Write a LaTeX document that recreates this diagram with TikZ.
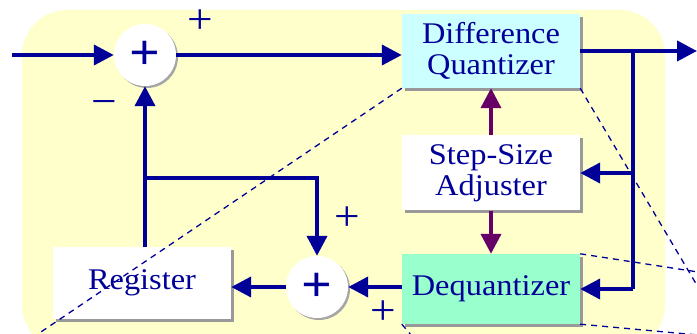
\documentclass[tikz,border=0pt]{standalone}
\usepackage{fontspec}
\setmainfont{Liberation Serif}[FakeStretch=1.08]
\usetikzlibrary{arrows.meta,positioning,shadows}
\definecolor{navy}{RGB}{0,0,153}
\definecolor{plum}{RGB}{102,0,102}
\definecolor{paleyellow}{RGB}{255,255,204}
\definecolor{palecyan}{RGB}{204,255,255}
\definecolor{palegreen}{RGB}{153,255,204}

\begin{document}
\begin{tikzpicture}[x=1pt, y=-1pt, line cap=butt,
    font=\fontsize{30}{31}\selectfont, text=navy,
    >={Triangle[length=20pt,width=20pt]},
    blk/.style={minimum width=178pt, inner sep=0pt, align=center,
      drop shadow={shadow xshift=3pt, shadow yshift=-3pt, fill=black!40, opacity=1}},
    sumnode/.style={circle, fill=white, minimum size=62pt, inner sep=0pt,
      font=\fontsize{50}{50}\selectfont\bfseries,
      drop shadow={shadow xshift=2pt, shadow yshift=-2pt, fill=black!35, opacity=1}},
    sign/.style={inner sep=0pt, font=\fontsize{42}{42}\selectfont},
    flow/.style={draw=navy, line width=4pt},
    ctl/.style={draw=plum, line width=4pt},
    zoomline/.style={draw=navy, line width=1.3pt, dash pattern=on 6pt off 5pt}]
  \useasboundingbox (0,0) rectangle (697,334);
  % background panel
  \fill[paleyellow, rounded corners=45pt] (22,10) rectangle (665,350);
  % blocks
  \node[sumnode] (sumA) at (145,55) {+};
  \node[blk, fill=palecyan, minimum height=74pt] (quant) at (491,51) {Difference\\Quantizer};
  \node[blk, fill=white, minimum height=75pt] (stepadj) at (491,173) {Step-Size\\Adjuster};
  \node[blk, fill=palegreen, minimum height=70pt] (dequant) at (491,289) {Dequantizer};
  \node[sumnode] (sumB) at (317,287) {+};
  \node[blk, fill=white, minimum height=71pt] (reg) at (142,283) {Register};
  % signs
  \node[sign] (pA) at (200,22) {+};
  \node[sign] (mA) at (104,108) {−};
  \node[sign] (pB) at (347,219) {+};
  \node[sign] (pC) at (383,313) {+};
  % signal path
  \coordinate (in) at (12,55);
  \coordinate (out) at (697,51);
  \coordinate (tap) at (633,51);
  \coordinate (fb) at (145,178);
  \draw[flow, ->] (in) -- (sumA);
  \draw[flow, ->] (sumA) -- (quant.west |- sumA);
  \draw[flow, ->] (quant) -- (out);
  \draw[flow] (tap) -- (tap |- dequant);
  \draw[flow, ->] (tap |- stepadj) -- (stepadj.east |- stepadj);
  \draw[flow, ->] (tap |- dequant) -- (dequant.east |- dequant);
  \draw[flow, ->] (dequant.west |- sumB) -- (sumB);
  \draw[flow, ->] (sumB) -- (reg.east |- sumB);
  \draw[flow, ->] (reg.north -| sumA) -- (sumA);
  \draw[flow, ->] (fb) -- (sumB |- fb) -- (sumB);
  % step size control
  \draw[ctl, ->] (stepadj) -- (quant);
  \draw[ctl, ->] (stepadj) -- (dequant);
  % zoom guide lines
  \draw[zoomline] (quant.south west) -- (35,336);
  \draw[zoomline] (quant.south east) -- (698,287);
  \draw[zoomline] (dequant.north east) -- (698,272);
  \draw[zoomline] (dequant.south east) -- (698,335);
  \draw[zoomline] (dequant.south west) -- (412,336);
\end{tikzpicture}
\end{document}
